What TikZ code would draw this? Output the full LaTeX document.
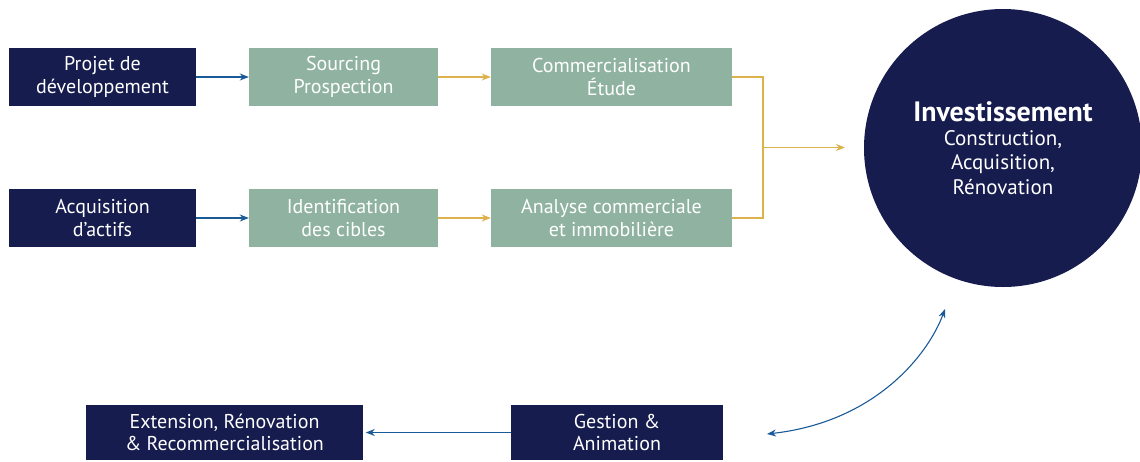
\documentclass[tikz,border=0pt]{standalone}
\usepackage{fontspec}
\setmainfont{PT Sans}
\usetikzlibrary{arrows.meta}
\definecolor{navy}{HTML}{161C4E}
\definecolor{sage}{HTML}{8FB3A0}
\definecolor{gold}{HTML}{DDB24C}
\definecolor{linkblue}{HTML}{1A5A98}
\newcommand{\tipsize}{length=9pt,width=7pt}
\begin{document}
\begin{tikzpicture}[x=1pt,y=-1pt,
		box/.style={minimum height=58pt,inner sep=0pt,align=center,text=white,font=\fontsize{20}{22.5}\selectfont},
		darkbox/.style={box,fill=navy},
		greenbox/.style={box,fill=sage},
		blueline/.style={draw=linkblue,line width=1.3pt},
		goldline/.style={draw=gold,line width=1.3pt}]

				\useasboundingbox (0,0) rectangle (1140,461);

				% first row
				\node[darkbox,minimum width=187pt] (projet) at (102.5,77) {Projet de\\développement};
				\node[greenbox,minimum width=189pt] (sourcing) at (343.5,77) {Sourcing\\Prospection};
				\node[greenbox,minimum width=241pt] (comm) at (611.5,77) {Commercialisation\\Étude};

				% second row
				\node[darkbox,minimum width=187pt] (acquis) at (102.5,218) {Acquisition\\d’actifs};
				\node[greenbox,minimum width=189pt] (ident) at (343.5,218) {Identification\\des cibles};
				\node[greenbox,minimum width=241pt] (analyse) at (611.5,218) {Analyse commerciale\\et immobilière};

				\node[circle,fill=navy,minimum size=278pt,inner sep=0pt,align=center,text=white,
					font=\fontsize{21}{24.5}\selectfont] (invest) at (1003,148)
					{{\fontsize{28}{26}\selectfont\bfseries Investissement}\\[-1pt]Construction,\\Acquisition,\\Rénovation};

				% bottom row
				\node[darkbox,minimum width=277pt,minimum height=55pt] (extension) at (224.5,432.5) {Extension, Rénovation\\\& Recommercialisation};
				\node[darkbox,minimum width=212pt,minimum height=55pt] (gestion) at (617,432.5) {Gestion \&\\Animation};

				\coordinate (join) at (763,147.5);
				\coordinate (investin) at (845,147.5);
				\coordinate (cyclea) at (767,434);
				\coordinate (cycleb) at (945,309);

				\draw[blueline,-{Stealth[\tipsize]}] (projet) -- (sourcing);
				\draw[blueline,-{Stealth[\tipsize]}] (acquis) -- (ident);
				\draw[goldline,-{Stealth[\tipsize]}] (sourcing) -- (comm);
				\draw[goldline,-{Stealth[\tipsize]}] (ident) -- (analyse);
				\draw[goldline] (comm.east) -| (join) |- (analyse.east);
				\draw[goldline,-{Stealth[\tipsize]}] (join) -- (investin);
				\draw[blueline,-{Stealth[\tipsize]}] (gestion.west) -- ++(-145,0);
				\draw[draw=linkblue,line width=1.1pt,{Stealth[\tipsize]}-{Stealth[\tipsize]}]
					(cyclea) .. controls (875,422) and (928,355) .. (cycleb);
			\end{tikzpicture}
\end{document}
